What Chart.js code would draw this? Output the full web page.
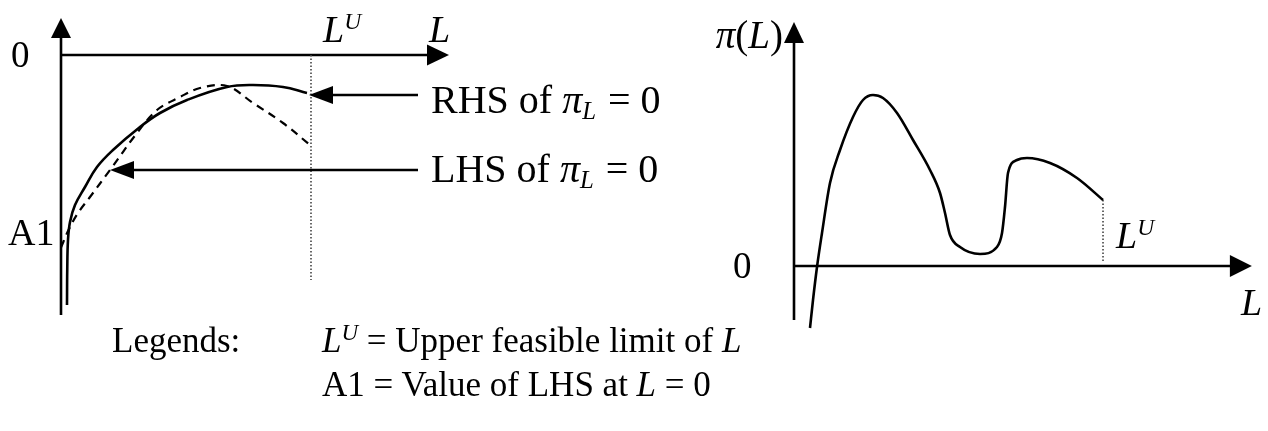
<!DOCTYPE html>
<html><head><meta charset="utf-8">
<script src="https://cdn.jsdelivr.net/npm/chart.js@4/dist/chart.umd.min.js"></script>
<style>
html,body{margin:0;padding:0;background:#fff;width:1268px;height:431px;overflow:hidden;}
#left{position:absolute;left:0;top:0;}
#right{position:absolute;left:700px;top:0;}
.lg{position:absolute;font-family:"Liberation Serif","Times New Roman",serif;font-size:35px;line-height:40px;color:#000;white-space:nowrap;}
.lg sup{font-size:23px;line-height:0;vertical-align:baseline;position:relative;top:-12px;}
</style></head><body>
<canvas id="left" width="700" height="340"></canvas>
<canvas id="right" width="568" height="340"></canvas>
<div class="lg" style="left:112px;top:321px">Legends:</div>
<div class="lg" style="left:322px;top:321px"><i>L</i><sup><i>U</i></sup> = Upper feasible limit of <i>L</i></div>
<div class="lg" style="left:322px;top:365px">A1 = Value of LHS at <i>L</i> = 0</div>
<script>
// ---------- Left panel data: both sides of pi_L = 0 versus L ----------
const rhsL = [0.24, 0.25, 0.28, 0.36, 0.56, 0.96, 1.44, 2.08, 3.16, 3.96, 5.04, 6.64, 7.68, 8.88, 9.84];
const rhsV = [-10.0, -8.6, -7.4, -6.68, -6.0, -5.28, -4.48, -3.8, -2.88, -2.32, -1.8, -1.28, -1.2, -1.28, -1.52];
const lhsL = [0.0, 0.3, 0.68, 1.16, 1.96, 3.04, 3.84, 4.76, 5.56, 6.64, 7.68, 8.88, 9.96];
const lhsV = [-7.7, -7.0, -6.32, -5.68, -4.6, -3.12, -2.2, -1.68, -1.32, -1.24, -1.92, -2.72, -3.6];
const leftLU = 10.0;            // upper feasible limit of L
const leftLUDrop = -9.0;        // lower end of the dotted L^U line
const leftAxisL = [0, 15.52];   // horizontal axis extent (to arrow tip)
const leftAxisV = [-10.4, 1.48];// vertical axis extent (to arrow tip)
const annFromL = [14.28, 14.28];
const annToL = [9.92, 1.96];
const annV = [-1.6, -4.6];
const annText = ['RHS', 'LHS'];

// ---------- Right panel data: profit pi(L) ----------
const piL = [0.516, 0.613, 0.742, 0.903, 1.161, 1.484, 1.903, 2.226, 2.548, 2.871, 3.323, 3.839, 4.387, 4.71, 4.871, 5.032, 5.355, 6.0, 6.548, 6.71, 6.806, 6.903, 7.194, 7.516, 8.258, 9.129, 9.968];
const piV = [-2.48, -1.36, -0.04, 1.32, 3.32, 4.64, 5.96, 6.64, 6.84, 6.72, 6.12, 5.04, 3.84, 2.92, 2.12, 1.24, 0.76, 0.48, 0.76, 1.32, 2.36, 3.72, 4.24, 4.32, 4.12, 3.52, 2.64];
const rightLU = 9.968;
const rightAxisL = [0, 14.77];
const rightAxisV = [-2.16, 9.76];

const FONT = '"Liberation Serif","Times New Roman",serif';

function pts(xs, ys) { return xs.map((x, i) => ({x: x, y: ys[i]})); }

function segFont(s, size) {
  const fs = (s.sub || s.sup) ? size * 0.62 : size;
  return (s.italic ? 'italic ' : '') + fs + 'px ' + FONT;
}
function drawRich(ctx, x, y, segs, size) {
  let cx = x;
  ctx.fillStyle = '#000';
  ctx.textBaseline = 'alphabetic';
  ctx.textAlign = 'left';
  for (const s of segs) {
    ctx.font = segFont(s, size);
    const dy = s.sup ? -size * 0.34 : (s.sub ? size * 0.15 : 0);
    ctx.fillText(s.t, cx, y + dy);
    cx += ctx.measureText(s.t).width + (s.gap || 0);
  }
  return cx;
}
function textWidth(ctx, segs, size) {
  let w = 0;
  for (const s of segs) {
    ctx.font = segFont(s, size);
    w += ctx.measureText(s.t).width + (s.gap || 0);
  }
  return w;
}
function arrowHead(ctx, tx, ty, dx, dy, len, hw) {
  const px = -dy, py = dx;
  ctx.beginPath();
  ctx.moveTo(tx, ty);
  ctx.lineTo(tx - dx * len + px * hw, ty - dy * len + py * hw);
  ctx.lineTo(tx - dx * len - px * hw, ty - dy * len - py * hw);
  ctx.closePath();
  ctx.fillStyle = '#000';
  ctx.fill();
}
function line(ctx, x1, y1, x2, y2, w, dash, color) {
  ctx.save();
  ctx.beginPath();
  ctx.setLineDash(dash || []);
  ctx.lineWidth = w;
  ctx.strokeStyle = color || '#000';
  ctx.moveTo(x1, y1);
  ctx.lineTo(x2, y2);
  ctx.stroke();
  ctx.restore();
}

const leftDecor = {
  id: 'leftDecor',
  beforeDatasetsDraw(chart) {
    const ctx = chart.ctx, X = chart.scales.x, Y = chart.scales.y;
    const ox = X.getPixelForValue(0), oy = Y.getPixelForValue(0);
    const yTop = Y.getPixelForValue(leftAxisV[1]);
    line(ctx, ox, Y.getPixelForValue(leftAxisV[0]), ox, yTop + 10, 2.6);
    arrowHead(ctx, ox, yTop, 0, -1, 20, 10);
    const xTip = X.getPixelForValue(leftAxisL[1]);
    line(ctx, ox, oy, xTip - 10, oy, 2.6);
    arrowHead(ctx, xTip, oy, 1, 0, 22, 10.5);
    const lu = X.getPixelForValue(leftLU);
    line(ctx, lu, oy, lu, Y.getPixelForValue(leftLUDrop), 1.6, [1.5, 2], '#444');
  },
  afterDatasetsDraw(chart) {
    const ctx = chart.ctx, X = chart.scales.x, Y = chart.scales.y;
    const ox = X.getPixelForValue(0), oy = Y.getPixelForValue(0);
    ctx.save();
    const textDrop = [17.5, 12];
    for (let i = 0; i < annFromL.length; i++) {
      const y = Y.getPixelForValue(annV[i]);
      const x1 = X.getPixelForValue(annFromL[i]), x2 = X.getPixelForValue(annToL[i]);
      line(ctx, x1, y, x2 + 10, y, 2.4);
      arrowHead(ctx, x2, y, -1, 0, 24, 9);
      drawRich(ctx, x1 + 13, y + textDrop[i], [
        {t: annText[i] + ' of '}, {t: '\u03c0', italic: true}, {t: 'L', italic: true, sub: true, gap: 2}, {t: ' = 0'}
      ], 40);
    }
    drawRich(ctx, ox - 50, oy + 12, [{t: '0'}], 37);
    const lu = X.getPixelForValue(leftLU);
    drawRich(ctx, lu + 12, oy - 13, [{t: 'L', italic: true}, {t: 'U', italic: true, sup: true}], 38);
    drawRich(ctx, X.getPixelForValue(leftAxisL[1]) - 20, oy - 13, [{t: 'L', italic: true}], 38);
    drawRich(ctx, ox - 53, Y.getPixelForValue(lhsV[0]) - 2.5, [{t: 'A1'}], 38);
    ctx.restore();
  }
};

const rightDecor = {
  id: 'rightDecor',
  beforeDatasetsDraw(chart) {
    const ctx = chart.ctx, X = chart.scales.x, Y = chart.scales.y;
    const ox = X.getPixelForValue(0), oy = Y.getPixelForValue(0);
    const yTop = Y.getPixelForValue(rightAxisV[1]);
    line(ctx, ox, Y.getPixelForValue(rightAxisV[0]), ox, yTop + 10, 2.6);
    arrowHead(ctx, ox, yTop, 0, -1, 21, 10);
    const xTip = X.getPixelForValue(rightAxisL[1]);
    line(ctx, ox, oy, xTip - 10, oy, 2.6);
    arrowHead(ctx, xTip, oy, 1, 0, 22, 11);
    const lu = X.getPixelForValue(rightLU);
    line(ctx, lu, Y.getPixelForValue(piV[piV.length - 1]), lu, oy - 5, 1.6, [1.5, 2], '#444');
  },
  afterDatasetsDraw(chart) {
    const ctx = chart.ctx, X = chart.scales.x, Y = chart.scales.y;
    const ox = X.getPixelForValue(0), oy = Y.getPixelForValue(0);
    ctx.save();
    const segPi = [{t: '\u03c0', italic: true}, {t: '('}, {t: 'L', italic: true}, {t: ')'}];
    const w = textWidth(ctx, segPi, 39);
    drawRich(ctx, ox - 11 - w, Y.getPixelForValue(rightAxisV[1]) + 26, segPi, 39);
    drawRich(ctx, ox - 61, oy + 12, [{t: '0'}], 37);
    drawRich(ctx, X.getPixelForValue(rightAxisL[1]) - 11, oy + 49, [{t: 'L', italic: true}], 38);
    drawRich(ctx, X.getPixelForValue(rightLU) + 13, oy - 18, [{t: 'L', italic: true}, {t: 'U', italic: true, sup: true}], 38);
    ctx.restore();
  }
};

function baseOptions(xmin, xmax, ymin, ymax) {
  return {
    responsive: false,
    animation: false,
    devicePixelRatio: 1,
    layout: {padding: 0},
    plugins: {legend: {display: false}, tooltip: {enabled: false}},
    elements: {point: {radius: 0}},
    scales: {
      x: {type: 'linear', display: false, min: xmin, max: xmax},
      y: {type: 'linear', display: false, min: ymin, max: ymax}
    }
  };
}

new Chart(document.getElementById('left'), {
  type: 'line',
  data: {
    datasets: [
      {label: 'RHS of \u03c0L = 0', data: pts(rhsL, rhsV), borderColor: '#000', borderWidth: 2.6, tension: 0.4, fill: false},
      {label: 'LHS of \u03c0L = 0', data: pts(lhsL, lhsV), borderColor: '#000', borderWidth: 2.2, borderDash: [8, 6], tension: 0.35, fill: false}
    ]
  },
  options: baseOptions(-2.44, 25.56, -11.4, 2.2),
  plugins: [leftDecor]
});

new Chart(document.getElementById('right'), {
  type: 'line',
  data: {
    datasets: [
      {label: '\u03c0(L)', data: pts(piL, piV), borderColor: '#000', borderWidth: 2.6, cubicInterpolationMode: 'monotone', fill: false}
    ]
  },
  options: baseOptions(-3.0323, 15.29, -2.96, 10.64),
  plugins: [rightDecor]
});
</script>
</body></html>
